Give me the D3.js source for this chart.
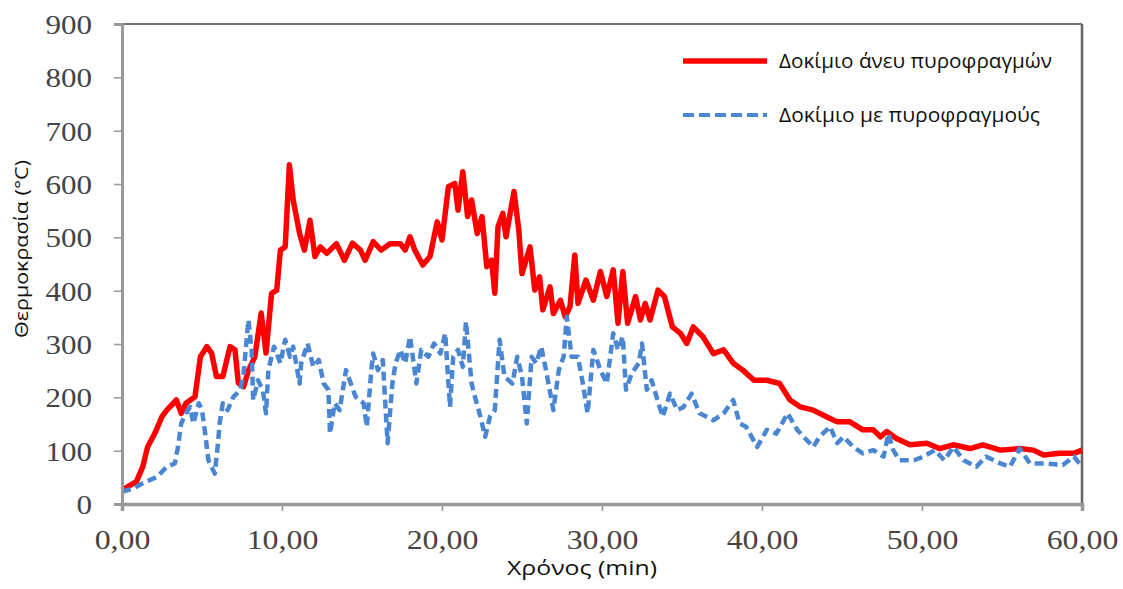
<!DOCTYPE html>
<html><head><meta charset="utf-8">
<script src="https://cdn.jsdelivr.net/npm/d3@7"></script>
<style>html,body{margin:0;padding:0;background:#fff;}svg{display:block;}</style>
</head><body>
<svg id="c" width="1123" height="589"></svg>
<script>
const xTicks = [0,10,20,30,40,50,60];
const yTicks = [0,100,200,300,400,500,600,700,800,900];
const seriesNames = ["Δοκίμιο άνευ πυροφραγμών","Δοκίμιο με πυροφραγμούς"];

const timeRed = [0,0.9,1.3,1.6,2.06,2.5,2.8,3.4,3.7,4.0,4.56,4.9,5.3,5.6,5.9,6.3,6.75,7.06,7.27,7.6,7.9,8.3,8.7,9.0,9.35,9.67,9.9,10.2,10.46,10.7,11.1,11.4,11.75,12.06,12.4,12.8,13.4,13.9,14.4,14.9,15.2,15.7,16.2,16.75,17.4,17.7,18.0,18.3,18.8,19.25,19.7,20.0,20.4,20.8,21.0,21.3,21.6,21.85,22.2,22.5,22.8,23.1,23.3,23.5,23.8,24.0,24.5,24.8,25.0,25.5,25.8,26.1,26.3,26.75,26.96,27.4,27.7,28.0,28.3,28.5,29.0,29.46,29.9,30.3,30.7,31.0,31.3,31.6,32.1,32.4,32.7,33.0,33.5,33.9,34.4,34.9,35.3,35.7,36.3,36.96,37.6,38.2,38.8,39.5,40.3,41.1,41.75,42.4,43.2,44.0,44.7,45.5,46.3,46.96,47.4,47.8,48.4,49.25,50.3,51.1,51.96,53.0,53.8,54.9,56.1,56.96,57.6,58.6,59.5,60];
const tempRed = [26,42,70,107,133,164,176,195,170,189,201,276,295,283,239,239,295,289,227,220,250,276,358,283,395,401,476,482,636,570,507,476,532,464,482,470,488,457,489,476,457,492,476,488,488,476,501,476,448,464,529,495,595,601,551,623,539,570,507,539,445,457,395,520,545,501,586,514,432,482,401,426,364,407,357,382,351,370,467,376,420,382,436,389,439,339,436,339,389,345,376,345,401,389,332,320,301,332,314,282,289,264,251,232,232,226,195,182,176,164,154,154,139,139,126,136,123,111,114,104,111,104,111,101,104,101,92,95,95,101];

const timeBlue = [0,0.7,1.3,2.2,2.8,3.3,3.5,3.7,4.0,4.25,4.46,4.8,5.0,5.2,5.4,5.8,6.0,6.1,6.3,6.6,6.96,7.4,7.6,7.9,8.1,8.2,8.5,8.8,9.0,9.15,9.5,9.9,10.2,10.5,10.7,11.1,11.2,11.6,11.96,12.3,12.6,12.9,13.0,13.3,13.6,14.0,14.6,15.1,15.3,15.6,15.7,16.0,16.3,16.6,16.9,17.1,17.4,17.7,18.0,18.4,18.7,19.15,19.5,19.9,20.2,20.5,20.7,21.0,21.3,21.5,21.85,22.06,22.4,22.7,23.0,23.3,23.6,23.9,24.4,24.7,25.0,25.3,25.6,25.9,26.2,26.5,26.96,27.3,27.6,27.8,28.1,28.5,28.8,29.1,29.46,29.9,30.3,30.7,31.0,31.3,31.5,31.86,32.3,32.5,32.8,33.1,33.6,33.8,34.25,34.7,35.1,35.6,36.1,36.96,37.6,38.2,38.6,39.0,39.7,40.3,40.9,41.6,42.2,42.6,43.2,43.6,44.25,44.7,45.1,45.7,46.3,46.96,47.6,47.9,48.2,48.6,49.5,50.1,50.8,51.4,51.96,52.6,53.4,54.0,54.9,55.5,56.1,56.75,57.8,58.8,59.5,60];
const tempBlue = [23,29,39,51,70,76,107,151,170,182,151,189,176,132,82,57,114,151,189,176,201,214,245,345,289,195,232,214,170,251,295,264,308,276,295,226,264,301,257,270,226,214,132,189,176,251,201,189,145,257,282,251,270,114,226,264,289,264,314,226,289,276,301,282,320,182,276,289,257,342,226,201,164,126,164,176,308,239,226,276,239,151,276,264,295,251,176,251,276,351,276,276,226,170,289,251,226,320,289,314,214,245,264,301,214,232,182,164,207,176,182,207,170,157,170,195,151,145,107,139,132,170,139,126,107,126,145,114,126,107,95,101,89,132,101,82,82,89,101,82,107,82,70,89,76,70,104,76,76,73,89,70];

const svg = d3.select("#c");
const x = d3.scaleLinear().domain([0,60]).range([122,1082]);
const y = d3.scaleLinear().domain([0,900]).range([504,24]);

const fmt = v => v.toFixed(2).replace(".", ",");
const sans = "'Open Sans','Noto Sans',sans-serif";
const serif = "'Liberation Serif','DejaVu Serif',serif";

// frame top and right
svg.append("line").attr("x1",122).attr("x2",1082).attr("y1",y(900)).attr("y2",y(900)).attr("stroke","#444").attr("stroke-width",1.5);
svg.append("line").attr("x1",x(60)).attr("x2",x(60)).attr("y1",y(900)).attr("y2",y(0)).attr("stroke","#666").attr("stroke-width",2.5);

// lines
const redData = timeRed.map((t,i)=>[t,tempRed[i]]);
const blueData = timeBlue.map((t,i)=>[t,tempBlue[i]]);
const line = d3.line().x(d=>x(d[0])).y(d=>y(d[1]));
svg.append("path").datum(redData).attr("d",line).attr("fill","none")
  .attr("stroke","#ff0000").attr("stroke-width",5.5).attr("stroke-linejoin","round");
svg.append("path").datum(blueData).attr("d",line).attr("fill","none")
  .attr("stroke","#4a86d2").attr("stroke-width",4.5).attr("stroke-dasharray","9,5").attr("stroke-linejoin","round");

// y axis
const ya = svg.append("g").attr("transform","translate(122,0)")
  .call(d3.axisLeft(y).tickValues(yTicks).tickSize(8).tickFormat(d=>d));
ya.select(".domain").attr("stroke","#999").attr("stroke-width",3);
ya.selectAll(".tick line").attr("stroke","#999").attr("stroke-width",1.5);
ya.selectAll(".tick text").attr("dy","0.35em")
  .attr("font-family",serif).attr("font-size",27).attr("fill","#444")
  .attr("text-anchor","end").attr("transform","scale(1.15,1)").attr("x",-30/1.15);

// x axis
const xa = svg.append("g").attr("transform","translate(0,504)")
  .call(d3.axisBottom(x).tickValues(xTicks).tickSize(7).tickFormat(fmt));
xa.select(".domain").attr("stroke","#999").attr("stroke-width",3.5);
xa.selectAll(".tick line").attr("stroke","#999").attr("stroke-width",1.5);
xa.selectAll(".tick text").attr("y",0).attr("dy",0)
  .attr("transform","translate(0,45) scale(1.18,1)")
  .attr("font-family",serif).attr("font-size",27).attr("fill","#444");

// legend
const lg = svg.append("g");
lg.append("line").attr("x1",683).attr("x2",767).attr("y1",61).attr("y2",61).attr("stroke","#ff0000").attr("stroke-width",5.5);
lg.append("line").attr("x1",683).attr("x2",767).attr("y1",115).attr("y2",115).attr("stroke","#4a86d2").attr("stroke-width",4).attr("stroke-dasharray","11,5");
lg.append("text").attr("x",779).attr("y",68).text(seriesNames[0])
  .attr("font-family",sans).attr("font-size",20).attr("fill","#111")
  .attr("textLength",273).attr("lengthAdjust","spacingAndGlyphs");
lg.append("text").attr("x",779).attr("y",122).text(seriesNames[1])
  .attr("font-family",sans).attr("font-size",20).attr("fill","#111")
  .attr("textLength",261).attr("lengthAdjust","spacingAndGlyphs");

// axis titles
svg.append("text").attr("x",507).attr("y",575).text("Χρόνος (min)")
  .attr("font-family",sans).attr("font-size",20).attr("fill","#111")
  .attr("textLength",150).attr("lengthAdjust","spacingAndGlyphs");
svg.append("text").attr("transform","translate(28,338) rotate(-90)").text("Θερμοκρασία (°C)")
  .attr("font-family",sans).attr("font-size",19).attr("fill","#111")
  .attr("textLength",178).attr("lengthAdjust","spacingAndGlyphs");
</script>
</body></html>
